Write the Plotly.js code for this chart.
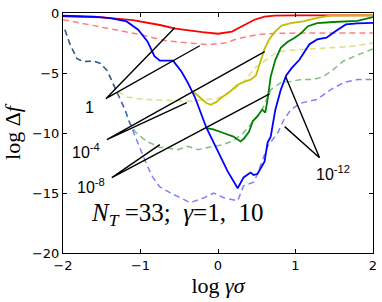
<!DOCTYPE html>
<html><head><meta charset="utf-8">
<script src="https://cdn.plot.ly/plotly-3.0.1.min.js"></script>
<style>html,body{margin:0;padding:0;background:#fff}#chart{width:382px;height:302px}</style>
</head><body><div id="chart"></div>
<script>
// gamma = 1 (solid)
const redSolidX = [-2, -1.5, -1.1, -0.75, -0.55, -0.35, -0.2, 0.0, 0.18, 0.34, 0.47, 0.6, 0.73, 1.0, 1.5, 2];
const redSolidY = [-0.27, -0.36, -0.6, -1.0, -1.3, -1.48, -1.6, -1.73, -1.55, -1.0, -0.56, -0.3, -0.22, -0.2, -0.2, -0.2];
const yellowSolidX = [-0.31, -0.22, -0.15, -0.094, -0.03, 0.035, 0.1, 0.164, 0.25, 0.33, 0.42, 0.49, 0.52, 0.56, 0.6, 0.66, 0.73, 0.82, 0.94, 1.1, 1.28, 1.45, 1.7, 2.0];
const yellowSolidY = [-6.6, -7.1, -7.5, -7.65, -7.45, -7.1, -6.8, -6.5, -6.0, -5.75, -5.55, -5.2, -4.6, -3.7, -3.0, -2.2, -1.6, -1.05, -0.85, -0.7, -0.4, -0.22, -0.2, -0.2];
const greenSolidX = [-0.15, -0.06, 0.07, 0.2, 0.29, 0.33, 0.4, 0.45, 0.51, 0.57, 0.61, 0.64, 0.68, 0.74, 0.81, 0.9, 0.98, 1.07, 1.16, 1.28, 1.49, 1.8, 2.0];
const greenSolidY = [-9.6, -9.7, -10.0, -10.3, -10.7, -10.5, -9.9, -9.0, -8.6, -8.05, -8.3, -7.2, -5.3, -3.9, -2.9, -2.4, -2.1, -1.7, -1.1, -0.85, -0.75, -0.65, -0.35];
const blueSolidX = [-2, -1.6, -1.39, -1.18, -1.03, -0.91, -0.82, -0.75, -0.58, -0.47, -0.39, -0.30, -0.15, 0.0, 0.125, 0.254, 0.33, 0.42, 0.46, 0.51, 0.6, 0.64, 0.68, 0.74, 0.81, 0.88, 0.95, 1.05, 1.18, 1.28, 1.4, 1.52, 1.65, 1.8, 2.0];
const blueSolidY = [-0.23, -0.3, -0.42, -0.7, -1.39, -2.37, -3.6, -3.97, -3.97, -4.9, -5.8, -6.98, -9.56, -11.6, -13.2, -14.6, -13.7, -13.3, -13.5, -13.4, -12.4, -10.8, -10.3, -8.06, -6.4, -5.2, -4.6, -3.9, -2.6, -2.2, -2.06, -1.5, -0.95, -0.87, -0.83];
// gamma = 10 (dashed)
const redDashX = [-2, -1.5, -1.0, -0.69, -0.36, -0.13, 0.09, 0.25, 0.51, 0.7, 1.0, 1.5, 2];
const redDashY = [-0.56, -1.15, -1.8, -2.3, -2.5, -2.64, -2.5, -2.15, -1.8, -1.7, -1.67, -1.67, -1.67];
const yellowDashX = [-1.975, -1.91, -1.82, -1.74, -1.61, -1.52, -1.43, -1.36, -1.33, -1.17, -0.97, -0.66, -0.35, -0.13, 0.0, 0.13, 0.25, 0.34, 0.47, 0.54, 0.68, 0.8, 0.94, 1.16, 1.45, 1.7, 2.0];
const yellowDashY = [-1.4, -2.6, -3.8, -4.05, -4.0, -4.2, -4.8, -5.8, -6.4, -7.0, -7.2, -7.3, -7.35, -7.2, -7.1, -6.7, -6.1, -5.7, -4.6, -4.3, -3.6, -3.2, -3.1, -3.0, -2.9, -2.8, -2.5];
const greenDashX = [-1.975, -1.91, -1.82, -1.74, -1.61, -1.52, -1.43, -1.36, -1.27, -1.2, -1.14, -1.07, -0.92, -0.75, -0.69, -0.52, -0.39, -0.26, -0.13, 0.05, 0.18, 0.31, 0.38, 0.47, 0.56, 0.68, 0.81, 0.94, 1.07, 1.23, 1.36, 1.49, 1.62, 1.8, 2.0];
const greenDashY = [-1.4, -2.6, -3.8, -4.05, -4.0, -4.2, -4.8, -5.8, -7.1, -8.06, -9.14, -9.9, -10.7, -11.2, -11.2, -11.4, -11.1, -11.4, -11.2, -11.0, -10.7, -10.1, -9.6, -8.9, -8.2, -6.4, -5.8, -5.7, -5.55, -5.55, -5.3, -4.7, -4.0, -3.5, -3.0];
const blueDashX = [-1.975, -1.91, -1.82, -1.74, -1.61, -1.52, -1.43, -1.36, -1.27, -1.2, -1.14, -1.05, -0.92, -0.84, -0.75, -0.62, -0.36, -0.18, -0.055, 0.073, 0.254, 0.33, 0.46, 0.51, 0.64, 0.77, 0.85, 0.94, 1.07, 1.28, 1.45, 1.62, 1.8, 2.0];
const blueDashY = [-1.4, -2.6, -3.8, -4.05, -4.0, -4.2, -4.8, -5.8, -7.1, -8.06, -9.14, -10.56, -12.64, -13.7, -14.5, -14.97, -15.8, -15.4, -15.0, -15.4, -15.64, -14.4, -14.1, -13.4, -11.1, -10.0, -8.9, -8.05, -7.5, -7.2, -6.4, -5.8, -5.55, -5.55];
// tolerance labels and leader lines
const tolLabels = ['1', '10<sup>-4</sup>', '10<sup>-8</sup>', '10<sup>-12</sup>'];
const labelX = [-1.655, -1.70, -1.64, 1.48];
const labelY = [-7.9, -11.5, -14.4, -13.3];
const leaderFromX = [-1.447, -1.434, -1.37, 1.31];
const leaderFromY = [-7.14, -10.56, -13.72, -12.06];
const leaderSolidX = [-0.558, 0.602, 0.666, 0.872];
const leaderSolidY = [-1.22, -3.22, -6.73, -5.3];
const leaderDashX = [-0.236, -0.403, -0.751, 0.86];
const leaderDashY = [-2.73, -7.47, -10.97, -9.47];
const xTicks = [-2, -1, 0, 1, 2];
const yTicks = [0, -5, -10, -15, -20];
const tickText = v => (v < 0 ? '\u2212' + Math.abs(v) : String(v));

const solidCol = ['#ff0000', '#bfbf00', '#008000', '#0000ff'];
const dashCol = ['rgba(255,0,0,0.5)', 'rgba(191,191,0,0.5)', 'rgba(0,128,0,0.5)', 'rgba(0,0,255,0.5)'];
const solids = [[redSolidX, redSolidY], [yellowSolidX, yellowSolidY], [greenSolidX, greenSolidY], [blueSolidX, blueSolidY]];
const dashes = [[redDashX, redDashY], [yellowDashX, yellowDashY], [greenDashX, greenDashY], [blueDashX, blueDashY]];

const traces = [];
for (let i = 0; i < 4; i++) {
  traces.push({x: dashes[i][0], y: dashes[i][1], mode: 'lines', line: {color: dashCol[i], width: 1.5, dash: '6px,4px'}, hoverinfo: 'skip'});
}
for (let i = 0; i < 4; i++) {
  traces.push({x: solids[i][0], y: solids[i][1], mode: 'lines', line: {color: solidCol[i], width: 1.8}, hoverinfo: 'skip'});
}
for (let i = 0; i < 4; i++) {
  traces.push({x: [leaderDashX[i], leaderFromX[i], leaderSolidX[i]], y: [leaderDashY[i], leaderFromY[i], leaderSolidY[i]],
    mode: 'lines', line: {color: '#000', width: 1.4}, hoverinfo: 'skip'});
}
const annotations = tolLabels.map((t, i) => ({x: labelX[i], y: labelY[i], xref: 'x', yref: 'y', text: t, showarrow: false,
  font: {family: 'Liberation Sans, Arial, sans-serif', size: 16, color: '#000'}}));
annotations.push({x: -0.53, y: -16.8, xref: 'x', yref: 'y', showarrow: false,
  text: '<i>N</i><sub><i>T</i></sub> =33;  <i>γ</i>=1,  10',
  font: {family: 'Liberation Serif, serif', size: 25, color: '#000'}});

const axisCommon = {showgrid: false, zeroline: false, showline: true, linecolor: '#000', linewidth: 1,
  mirror: 'ticks', ticks: 'inside', ticklen: 4, tickwidth: 1, tickcolor: '#000',
  tickfont: {family: 'DejaVu Sans, sans-serif', size: 13, color: '#000'}};
const layout = {
  width: 382, height: 302, margin: {l: 63, r: 9, t: 13, b: 49},
  paper_bgcolor: '#fff', plot_bgcolor: '#fff', showlegend: false,
  xaxis: Object.assign({}, axisCommon, {range: [-2, 2], tickvals: xTicks, ticktext: xTicks.map(tickText),
    title: {text: 'log <i>γσ</i>', font: {family: 'Liberation Serif, serif', size: 22, color: '#000'}, standoff: 4}}),
  yaxis: Object.assign({}, axisCommon, {range: [-20, 0], tickvals: yTicks, ticktext: yTicks.map(tickText),
    title: {text: 'log Δ<i>f</i>', font: {family: 'Liberation Serif, serif', size: 22, color: '#000'}, standoff: 6}}),
  annotations: annotations
};
Plotly.newPlot('chart', traces, layout, {staticPlot: true, displayModeBar: false});
</script></body></html>
